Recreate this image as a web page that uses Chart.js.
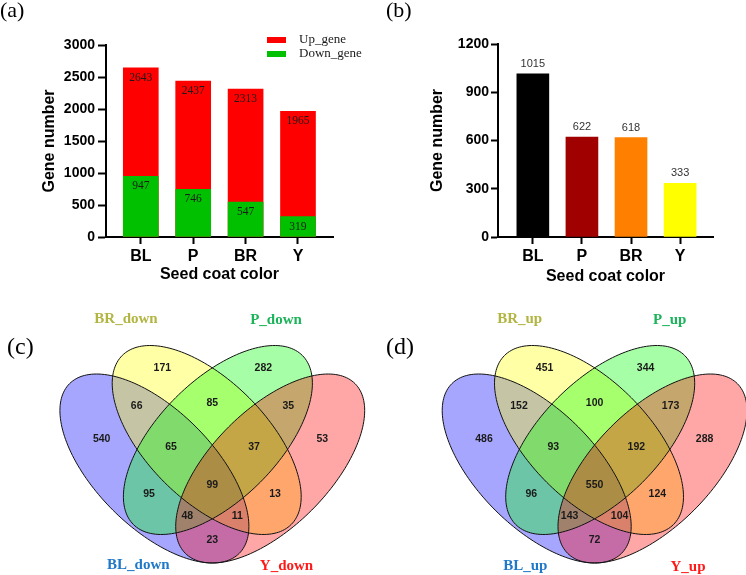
<!DOCTYPE html>
<html lang="en">
<head>
<meta charset="UTF-8">
<title>Seed coat DEG charts</title>
<script src="https://cdn.jsdelivr.net/npm/chart.js"></script>
<style>
  body { margin: 0; background: #fff; width: 746px; height: 575px; overflow: hidden; position: relative; }
  canvas { position: absolute; }
  .tag { position: absolute; font-family: 'Liberation Serif', 'Times New Roman', serif; color: #000; line-height: 1; white-space: nowrap; }
</style>
</head>
<body>
<canvas id="chartA" width="373" height="290" style="left:0;top:0"></canvas>
<canvas id="chartB" width="373" height="290" style="left:373px;top:0"></canvas>
<canvas id="chartC" width="373" height="285" style="left:0;top:290px"></canvas>
<canvas id="chartD" width="373" height="285" style="left:373px;top:290px"></canvas>
<div class="tag" style="left:0;top:-1px;font-size:22px">(a)</div>
<div class="tag" style="left:386px;top:-1px;font-size:22px">(b)</div>
<div class="tag" style="left:7px;top:334px;font-size:24px">(c)</div>
<div class="tag" style="left:386px;top:334px;font-size:24px">(d)</div>

<script>
  // ---- data ----
  const seedColors = ['BL', 'P', 'BR', 'Y'];
  const upGene = [2643, 2437, 2313, 1965];
  const downGene = [947, 746, 547, 319];
  const geneTicks = [0, 500, 1000, 1500, 2000, 2500, 3000];

  const specificGene = [1015, 622, 618, 333];
  const specificTicks = [0, 300, 600, 900, 1200];
  const specificColors = ['#000000', '#a00000', '#ff8000', '#ffff00'];

  // venn sets and regions (same region order in both diagrams)
  const vennSets = ['BL', 'BR', 'P', 'Y'];
  const regionNames = ['BL', 'BR', 'P', 'Y', 'BL&BR', 'BR&P', 'P&Y', 'BL&BR&P', 'BR&P&Y',
    'BL&P', 'BL&BR&P&Y', 'BR&Y', 'BL&P&Y', 'BL&BR&Y', 'BL&Y'];
  const downCounts = [540, 171, 282, 53, 66, 85, 35, 65, 37, 95, 99, 13, 48, 11, 23];
  const upCounts = [486, 451, 344, 288, 152, 100, 173, 93, 192, 96, 550, 124, 143, 104, 72];

  // ---- layout of the venn drawing (venn units = px of panel c) ----
  const regionPos = [[101.7, 149], [162.3, 77.7], [263.3, 77.7], [322.3, 149], [136.7, 115.7],
    [212.3, 113.3], [288.3, 115.7], [171, 156.7], [254, 156.7], [149, 204], [212.3, 195],
    [275, 204], [187.3, 226], [237.3, 226], [212.3, 250]];
  const vennShapes = [
    { cx: 154.4, cy: 178.5, a: 120, b: 58.8, rot: 45, rgb: '0,0,255' },
    { cx: 206.7, cy: 150, a: 119.5, b: 59.8, rot: 45, rgb: '255,255,0' },
    { cx: 217.9, cy: 150, a: 119.5, b: 59.8, rot: -45, rgb: '0,255,0' },
    { cx: 270.2, cy: 178.5, a: 120, b: 58.8, rot: -45, rgb: '255,0,0' }
  ];
  const setLabelColors = ['#1f78c8', '#b3b542', '#1cb35a', '#ff1a1a'];

  const sans = "'Liberation Sans', Arial, sans-serif";
  const serif = "'Liberation Serif', 'Times New Roman', serif";

  // value labels on bars
  const barValueLabels = {
    id: 'barValueLabels',
    afterDatasetsDraw(chart, args, opts) {
      const ctx = chart.ctx;
      ctx.save();
      ctx.font = opts.font;
      ctx.fillStyle = opts.color;
      ctx.textAlign = 'center';
      ctx.textBaseline = 'middle';
      chart.data.datasets.forEach((ds, d) => {
        chart.getDatasetMeta(d).data.forEach((bar, i) => {
          ctx.fillText(ds.data[i].y, bar.x, bar.y + opts.offset);
        });
      });
      ctx.restore();
    }
  };

  function xAxis(min, max, titlePad) {
    return {
      type: 'linear', min: min, max: max, offset: false,
      afterBuildTicks: s => { s.ticks = seedColors.map((c, i) => ({ value: i })); },
      afterFit: s => { s.height = 53; },
      ticks: { callback: v => seedColors[v], color: '#000', padding: 3,
        font: { family: sans, size: 16, weight: 'bold' } },
      grid: { offset: false, drawOnChartArea: false, tickLength: 7, tickWidth: 2, tickColor: '#000' },
      border: { width: 2, color: '#000' },
      title: { display: true, text: 'Seed coat color', color: '#000',
        font: { family: sans, size: 16, weight: 'bold' }, padding: { top: 0, bottom: titlePad } }
    };
  }

  function yAxis(max, tickVals, width, tickLen, pad, titlePad) {
    return {
      min: 0, max: max,
      afterBuildTicks: s => { s.ticks = tickVals.map(v => ({ value: v })); },
      afterFit: s => { s.width = width; },
      ticks: { callback: v => String(v), color: '#000', padding: pad,
        font: { family: sans, size: 14, weight: 'bold' } },
      grid: { drawOnChartArea: false, tickLength: tickLen, tickWidth: 2, tickColor: '#000' },
      border: { width: 2, color: '#000' },
      title: { display: true, text: 'Gene number', color: '#000',
        font: { family: sans, size: 16, weight: 'bold' }, padding: { top: titlePad, bottom: 0 } }
    };
  }

  // (a) red total with the green down part in front
  const legendA = {
    id: 'legendA',
    afterDraw(chart) {
      const ctx = chart.ctx;
      ctx.save();
      ctx.font = '13px ' + serif;
      ctx.textBaseline = 'middle';
      chart.data.datasets.forEach((ds, i) => {
        ctx.fillStyle = ds.backgroundColor;
        ctx.fillRect(267, 37 + i * 14, 19, 6);
        ctx.fillStyle = '#1a1a1a';
        ctx.fillText(ds.label, 299, 40 + i * 14);
      });
      ctx.restore();
    }
  };

  new Chart(document.getElementById('chartA'), {
    type: 'bar',
    data: {
      datasets: [
        { label: 'Up_gene', data: upGene.map((v, i) => ({ x: i, y: v })),
          backgroundColor: '#ff0000', grouped: false, order: 2, barThickness: 35 },
        { label: 'Down_gene', data: downGene.map((v, i) => ({ x: i, y: v })),
          backgroundColor: '#00c000', grouped: false, order: 1, barThickness: 35 }
      ]
    },
    options: {
      responsive: false, animation: false, events: [],
      layout: { padding: { top: 45, right: 40, left: 0, bottom: 0 } },
      scales: {
        x: xAxis(-0.664, 3.668, 5.4),
        y: yAxis(3000, geneTicks, 106, 8, 3, 40.4)
      },
      plugins: {
        legend: { display: false }, tooltip: { enabled: false },
        barValueLabels: { font: '11.5px ' + serif, color: '#1a1a1a', offset: 10 }
      }
    },
    plugins: [barValueLabels, legendA]
  });

  new Chart(document.getElementById('chartB'), {
    type: 'bar',
    data: {
      datasets: [
        { label: 'Gene number', data: specificGene.map((v, i) => ({ x: i, y: v })),
          backgroundColor: specificColors, barThickness: 32 }
      ]
    },
    options: {
      responsive: false, animation: false, events: [],
      layout: { padding: { top: 44, right: 33, left: 0, bottom: 0 } },
      scales: {
        x: xAxis(-0.71, 3.67, 3.4),
        y: yAxis(1200, specificTicks, 125, 7, 2, 55.4)
      },
      plugins: {
        legend: { display: false }, tooltip: { enabled: false },
        barValueLabels: { font: '11px ' + sans, color: '#333', offset: -10 }
      }
    },
    plugins: [barValueLabels]
  });

  // ---- venn diagrams ----
  const vennDraw = {
    id: 'vennDraw',
    beforeDatasetsDraw(chart) {
      const { ctx, scales: { x, y } } = chart;
      const paths = vennShapes.map(e => {
        const p = new Path2D();
        const r = e.rot * Math.PI / 180;
        for (let k = 0; k <= 180; k++) {
          const t = k / 180 * 2 * Math.PI;
          const ux = e.cx + e.a * Math.cos(t) * Math.cos(r) - e.b * Math.sin(t) * Math.sin(r);
          const uy = e.cy + e.a * Math.cos(t) * Math.sin(r) + e.b * Math.sin(t) * Math.cos(r);
          const px = x.getPixelForValue(ux), py = y.getPixelForValue(uy);
          if (k === 0) p.moveTo(px, py); else p.lineTo(px, py);
        }
        p.closePath();
        return p;
      });
      ctx.save();
      paths.forEach((p, i) => {
        ctx.fillStyle = 'rgba(' + vennShapes[i].rgb + ',0.35)';
        ctx.fill(p);
      });
      ctx.strokeStyle = '#111';
      ctx.lineWidth = 1;
      paths.forEach(p => ctx.stroke(p));
      ctx.restore();
    },
    afterDatasetsDraw(chart, args, opts) {
      const { ctx, scales: { x, y } } = chart;
      ctx.save();
      ctx.textAlign = 'center';
      ctx.textBaseline = 'middle';
      ctx.font = 'bold 10.5px ' + sans;
      ctx.fillStyle = '#1a1a1a';
      const ds = chart.data.datasets[0];
      chart.getDatasetMeta(0).data.forEach((pt, i) => {
        ctx.fillText(ds.data[i].v, pt.x, pt.y);
      });
      ctx.font = 'bold 15px ' + serif;
      opts.names.forEach((n, i) => {
        ctx.fillStyle = setLabelColors[i];
        ctx.fillText(n, x.getPixelForValue(opts.namePos[i][0]), y.getPixelForValue(opts.namePos[i][1]));
      });
      ctx.restore();
    }
  };

  function vennChart(id, counts, suffix, shift, namePos) {
    return new Chart(document.getElementById(id), {
      type: 'scatter',
      data: {
        datasets: [{
          data: counts.map((v, i) => ({ x: regionPos[i][0], y: regionPos[i][1], v: v, region: regionNames[i] })),
          pointRadius: 0
        }]
      },
      options: {
        responsive: false, animation: false, events: [],
        layout: { padding: 0 },
        scales: {
          x: { type: 'linear', display: false, min: -shift, max: 373 - shift },
          y: { type: 'linear', display: false, min: 0, max: 285, reverse: true }
        },
        plugins: {
          legend: { display: false }, tooltip: { enabled: false },
          vennDraw: { names: vennSets.map(s => s + suffix), namePos: namePos }
        }
      },
      plugins: [vennDraw]
    });
  }

  vennChart('chartC', downCounts, '_down', 0,
    [[138.3, 275], [126, 29.3], [276, 30], [286.5, 276]]);
  vennChart('chartD', upCounts, '_up', 9.3,
    [[143, 276], [137.4, 29.3], [287.4, 30], [305.7, 276.7]]);
</script>
</body>
</html>
